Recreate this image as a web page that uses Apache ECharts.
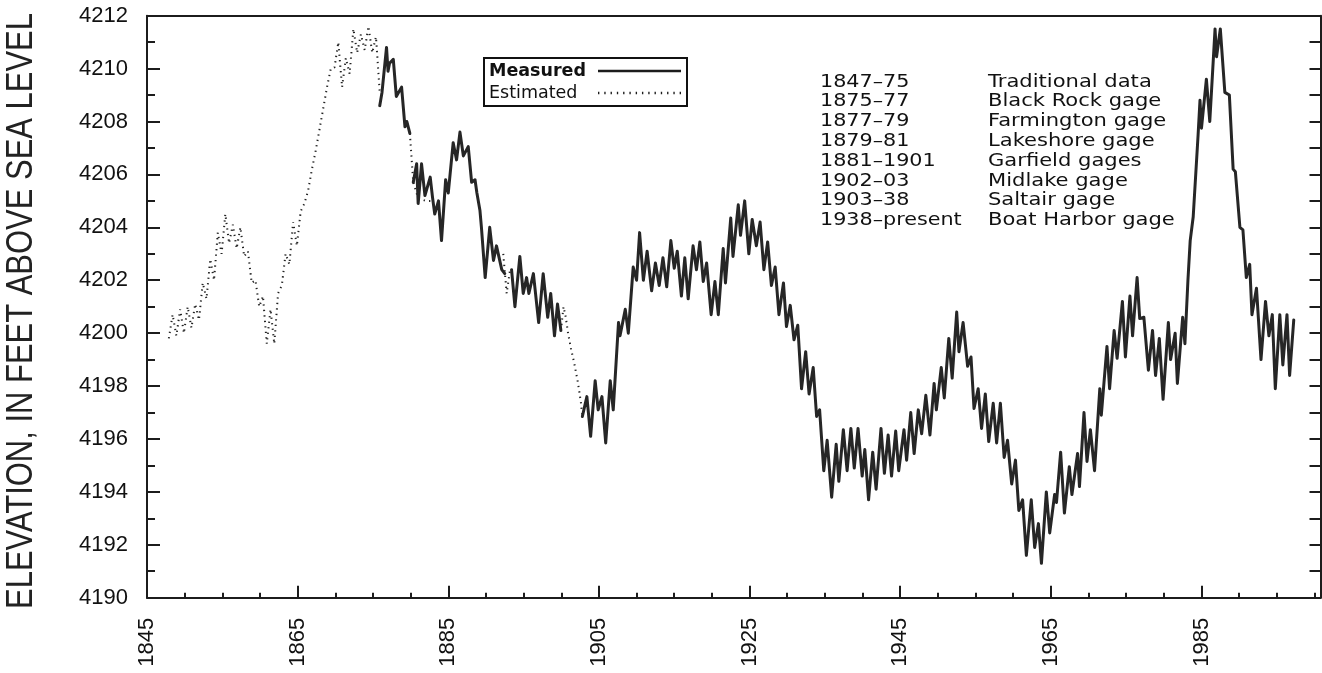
<!DOCTYPE html>
<html><head><meta charset="utf-8">
<script src="https://cdn.jsdelivr.net/npm/echarts@6/dist/echarts.min.js"></script>
<style>html,body{margin:0;padding:0;background:#fff}#c{width:1322px;height:673px}</style>
</head><body><div id="c"></div>
<script>
// ---- data ----
const measuredYears = [1875.9,1876.2,1876.8,1877.0,1877.2,1877.7,1878.1,1878.8,1879.25,1879.5,1879.9,1880.1,
1880.35,1880.8,1881.0,1881.45,1881.9,1882.6,1882.9,1883.2,1883.7,1884.1,1884.65,1885.0,1885.65,1886.1,1886.55,1887.0,1887.65,1888.1,1888.55,1888.8,1889.2,1889.4,1889.9,1890.5,1891.0,1891.4,1892.1,1892.5,1892.9,
1893.4,1893.85,1894.5,1894.95,1895.4,1895.7,1896.3,1897.0,1897.6,1898.2,1898.6,1899.1,1899.5,1899.95,1901.0,
1902.8,1903.4,1903.9,1904.5,1904.9,1905.4,1905.9,1906.5,1906.9,1907.6,1907.8,1908.5,1908.9,1909.55,1910.0,1910.4,1910.9,1911.4,1912.0,1912.5,1913.0,1913.5,1914.0,1914.55,1915.0,1915.4,1915.95,1916.4,1916.85,1917.5,1917.95,1918.4,1918.85,1919.3,1919.9,1920.4,1920.85,1921.5,1921.8,1922.5,1922.8,1923.5,1923.8,1924.35,1924.9,1925.35,1925.9,1926.4,1926.9,1927.4,1927.9,1928.4,1928.9,1929.5,1929.9,1930.4,1930.9,1931.4,1931.9,1932.45,1932.9,1933.45,1933.9,1934.3,1934.85,
1935.3,1935.9,1936.5,1936.85,1937.45,1937.95,1938.45,1938.9,1939.4,1939.95,1940.3,1940.8,1941.35,1941.8,1942.45,1942.9,1943.4,1943.85,1944.4,1944.8,1945.5,1945.85,1946.4,1946.85,1947.4,1947.85,1948.4,1948.95,1949.5,1949.8,1950.45,1950.85,1951.45,1951.9,1952.5,1952.8,1953.35,1953.95,1954.4,1954.8,1955.35,1955.8,1956.3,1956.75,1957.35,1957.8,1958.3,1958.8,1959.25,1959.8,1960.3,1960.75,
1961.25,1961.75,1962.4,1962.85,1963.35,1963.75,1964.4,1964.85,1965.5,1965.75,1966.3,1966.8,1967.45,1967.8,1968.55,1968.8,1969.4,1969.8,1970.25,1970.8,1971.5,1971.7,1972.45,1972.8,1973.4,1973.8,1974.5,1974.9,1975.5,1975.85,1976.45,1976.8,1977.35,1977.95,1978.5,1978.9,1979.4,1979.9,1980.6,1980.9,1981.5,1981.8,1982.5,1982.8,
1983.2,1983.5,1983.9,1984.55,1984.8,1985.0,1985.65,1986.1,1986.8,1987.0,1987.5,1988.1,1988.7,1989.2,1989.5,1990.1,1990.5,1990.95,1991.4,1991.7,1992.3,1992.9,1993.5,1993.95,1994.4,1994.8,1995.4,1995.8,1996.35,1996.7,1997.25];
const measuredLevels = [4208.6,4209.1,4210.8,4209.9,4210.2,4210.35,4208.95,4209.3,4207.8,4208.0,4207.55,null,
4205.7,4206.4,4204.9,4206.4,4205.2,4205.9,4205.15,4204.5,4205.0,4203.5,4205.8,4205.3,4207.2,4206.55,4207.6,4206.7,4207.05,4205.7,4205.8,4205.3,4204.65,4204.0,4202.1,4204.0,4202.75,4203.3,4202.4,4202.25,null,
4202.4,4201.0,4202.9,4201.5,4202.1,4201.5,4202.25,4200.4,4202.25,4200.6,4201.5,4199.9,4201.1,4200.1,null,
4196.85,4197.6,4196.1,4198.2,4197.1,4197.6,4195.85,4198.2,4197.1,4200.4,4199.9,4200.9,4200.0,4202.5,4202.0,4203.8,4202.0,4203.1,4201.6,4202.65,4201.8,4202.85,4201.75,4203.5,4202.45,4203.1,4201.4,4202.85,4201.3,4203.3,4202.4,4203.45,4201.95,4202.65,4200.7,4201.95,4200.7,4203.2,4201.9,4204.35,4202.9,4204.85,4203.7,4205.0,4203.0,4204.3,4203.3,4204.2,4202.4,4203.45,4201.8,4202.5,4200.7,4201.9,4200.25,4201.05,4199.75,4200.3,4197.9,4199.3,4197.7,4198.7,4196.85,4197.1,4194.8,
4195.95,4193.8,4195.8,4194.4,4196.35,4194.8,4196.4,4194.9,4196.4,4194.6,4195.6,4193.7,4195.5,4194.1,4196.4,4194.7,4196.15,4194.6,4196.3,4194.8,4196.35,4195.2,4197.0,4195.45,4197.1,4196.2,4197.65,4196.15,4198.1,4197.1,4198.7,4197.55,4199.8,4198.3,4200.8,4199.3,4200.4,4198.75,4199.1,4197.15,4197.9,4196.4,4197.7,4195.9,4197.35,4195.85,4197.35,4195.3,4195.95,4194.3,4195.2,4193.3,
4193.7,4191.6,4193.7,4191.9,4192.8,4191.3,4194.0,4192.45,4193.9,4193.6,4195.5,4193.2,4194.95,4193.9,4195.45,4194.2,4197.0,4195.15,4196.35,4194.8,4197.9,4196.9,4199.5,4197.9,4200.1,4199.05,4201.2,4199.1,4201.4,4199.9,4202.1,4200.55,4200.6,4198.6,4200.1,4198.4,4199.8,4197.5,4200.4,4199.0,4200.0,4198.1,4200.6,4199.6,
4202.0,4203.5,4204.4,4207.5,4208.8,4207.75,4209.6,4208.0,4211.5,4210.45,4211.5,4209.1,4209.0,4206.2,4206.1,4204.0,4203.9,4202.1,4202.6,4200.7,4201.7,4199.0,4201.2,4199.9,4200.7,4197.9,4200.7,4198.8,4200.7,4198.4,4200.5];

const estimatedYears = [1847.9,1848.4,1848.9,1849.4,1849.9,1850.4,1850.9,1851.4,1851.9,1852.4,1852.9,1853.4,1853.9,1854.4,1854.9,1855.4,1855.9,1856.4,1856.9,1857.4,1857.9,1858.4,1858.9,1859.4,1859.9,1860.4,1860.9,1861.4,1861.9,1862.4,1862.9,1863.4,1863.9,1864.4,1864.9,1865.4,1865.9,1866.4,1866.9,1867.4,1867.9,1868.4,1868.9,1869.4,1869.9,1870.4,1870.9,1871.4,1871.9,1872.4,1872.9,1873.4,1873.9,1874.4,1874.9,1875.4,1875.9,1876.5,
1879.9,1880.35,1881.0,1882.0,1882.8,1883.0,
1892.3,1892.75,1893.2,1893.4,1893.6,
1895.3,1895.6,1896.0,1896.2,
1899.95,1900.3,1900.6,1900.9,1901.3,1901.7,1902.2,1902.6,1902.8];
const estimatedLevels = [4199.8,4200.7,4199.9,4200.9,4200.0,4201.0,4200.2,4201.1,4200.5,4201.9,4201.3,4202.8,4202.0,4203.8,4203.0,4204.5,4203.4,4204.1,4203.2,4204.0,4202.9,4203.1,4201.9,4202.0,4201.0,4201.4,4199.6,4200.9,4199.6,4201.5,4201.8,4203.0,4202.6,4204.2,4203.3,4204.6,4204.9,4205.4,4206.2,4206.9,4207.7,4208.5,4209.3,4210.0,4210.05,4211.0,4209.3,4210.4,4209.8,4211.5,4210.6,4211.3,4210.7,4211.6,4210.6,4211.2,4209.1,null,
4207.55,4205.7,4205.1,4205.0,4205.0,null,
4203.0,4201.5,4202.4,4202.4,null,
4202.1,4201.6,4201.9,null,
4200.1,4201.0,4200.6,4200.0,4199.4,4198.9,4198.15,4197.4,4196.85];

const gagePeriods = ['1847\u201375','1875\u201377','1877\u201379','1879\u201381','1881\u20131901','1902\u201303','1903\u201338','1938\u2013present'];
const gageNames = ['Traditional data','Black Rock gage','Farmington gage','Lakeshore gage','Garfield gages','Midlake gage','Saltair gage','Boat Harbor gage'];
const seriesNames = ['Measured','Estimated'];
const yAxisTitle = 'ELEVATION, IN FEET ABOVE SEA LEVEL';

const zip = (xs, ys) => xs.map((x, i) => [x, ys[i]]);
const INK = '#1c1c1c';

// legend icon shapes (style only): a solid bar and a row of dots
let dotPath = 'path://';
for (let i = 0; i < 14; i++) dotPath += 'M' + (i * 6) + ',0h1.3v1h-1.3z';

const chart = echarts.init(document.getElementById('c'), null, {renderer: 'canvas'});
chart.setOption({
  backgroundColor: '#ffffff',
  animation: false,
  grid: {left: 147, right: 1.5, top: 15.7, bottom: 75.3, containLabel: false},
  xAxis: [
    { // minor 5-year ticks (data axis)
      type: 'value', min: 1845, max: 2000.8, interval: 5, position: 'bottom',
      axisLine: {show: true, onZero: false, lineStyle: {color: INK, width: 2}},
      axisTick: {show: true, inside: true, length: 5, lineStyle: {color: INK, width: 2}},
      axisLabel: {show: false}, splitLine: {show: false}
    },
    { // major 20-year ticks + labels (years counted from 1845)
      type: 'value', min: 0, max: 155.8, interval: 20, position: 'bottom',
      axisLine: {show: false},
      axisTick: {show: true, inside: true, length: 12, lineStyle: {color: INK, width: 2}},
      axisLabel: {show: true, rotate: 90, margin: 20, fontSize: 22, color: '#111',
        fontFamily: 'Liberation Sans', showMaxLabel: false,
        formatter: v => (v % 20 === 0 ? String(1845 + v) : '')},
      splitLine: {show: false}
    },
    { // top frame
      type: 'value', min: 0, max: 1, position: 'top',
      axisLine: {show: true, lineStyle: {color: INK, width: 2}},
      axisTick: {show: false}, axisLabel: {show: false}, splitLine: {show: false}
    }
  ],
  yAxis: [
    {
      type: 'value', min: 4190, max: 4212, interval: 2, position: 'left',
      axisLine: {show: true, onZero: false, lineStyle: {color: INK, width: 2}},
      axisTick: {show: true, inside: true, length: 13, lineStyle: {color: INK, width: 2}},
      minorTick: {show: true, splitNumber: 2, length: 8, lineStyle: {color: INK, width: 2}},
      axisLabel: {fontSize: 22, color: '#111', margin: 19, fontFamily: 'Liberation Sans',
        formatter: v => String(v)},
      splitLine: {show: false}
    },
    {
      type: 'value', min: 4190, max: 4212, interval: 1, position: 'right',
      axisLine: {show: true, onZero: false, lineStyle: {color: INK, width: 2}},
      axisTick: {show: true, inside: true, length: 11, lineStyle: {color: INK, width: 2}},
      axisLabel: {show: false}, splitLine: {show: false}
    }
  ],
  legend: {
    show: true, orient: 'vertical', left: 484, top: 58,
    data: [{name: seriesNames[0], icon: 'rect'}, {name: seriesNames[1], icon: dotPath}],
    align: 'right', itemWidth: 83, itemHeight: 2.6, itemGap: 4,
    symbolKeepAspect: false,
    padding: [4, 6, 4, 5],
    borderColor: '#111', borderWidth: 2, borderRadius: 0,
    backgroundColor: '#fff',
    itemStyle: {color: '#1c1c1c', borderWidth: 0},
    textStyle: {fontSize: 17, color: '#111', fontFamily: 'DejaVu Sans',
      rich: {b: {fontSize: 17.5, fontWeight: 'bold', fontFamily: 'DejaVu Sans', color: '#111', width: 104, align: 'left'},
             n: {fontSize: 17.5, fontFamily: 'DejaVu Sans', color: '#111', width: 104, align: 'left'}}},
    formatter: name => (name === 'Measured' ? '{b|' + name + '}' : '{n|' + name + '}'),
    selectedMode: false
  },
  graphic: [
    {type: 'text', x: 820, y: 72, scaleX: 1.15, silent: true,
     style: {text: gagePeriods.join('\n'), fontSize: 18, lineHeight: 19.8, fontFamily: 'DejaVu Sans',
             fill: '#111', textAlign: 'left', textVerticalAlign: 'top', verticalAlign: 'top'}},
    {type: 'text', x: 988, y: 72, scaleX: 1.17, silent: true,
     style: {text: gageNames.join('\n'), fontSize: 18, lineHeight: 19.8, fontFamily: 'DejaVu Sans',
             fill: '#111', textAlign: 'left', textVerticalAlign: 'top', verticalAlign: 'top'}},
    {type: 'text', x: 22, y: 311, rotation: Math.PI / 2, scaleX: 0.86, silent: true,
     style: {text: yAxisTitle, fontSize: 36, fontFamily: 'Liberation Sans', fill: '#222',
             textAlign: 'center', textVerticalAlign: 'middle', verticalAlign: 'middle'}}
  ],
  series: [
    {
      name: 'Estimated', type: 'line', xAxisIndex: 0, yAxisIndex: 0,
      data: zip(estimatedYears, estimatedLevels),
      symbol: 'none', showSymbol: false, connectNulls: false, smooth: false,
      lineStyle: {color: '#222', width: 2, type: [1.3, 4.2]},
      itemStyle: {color: '#222'}, z: 2
    },
    {
      name: 'Measured', type: 'line', xAxisIndex: 0, yAxisIndex: 0,
      data: zip(measuredYears, measuredLevels),
      symbol: 'none', showSymbol: false, connectNulls: false, smooth: false,
      lineStyle: {color: '#262626', width: 3, join: 'round', cap: 'round'},
      itemStyle: {color: '#262626'}, z: 3
    }
  ]
});
</script>
</body></html>
